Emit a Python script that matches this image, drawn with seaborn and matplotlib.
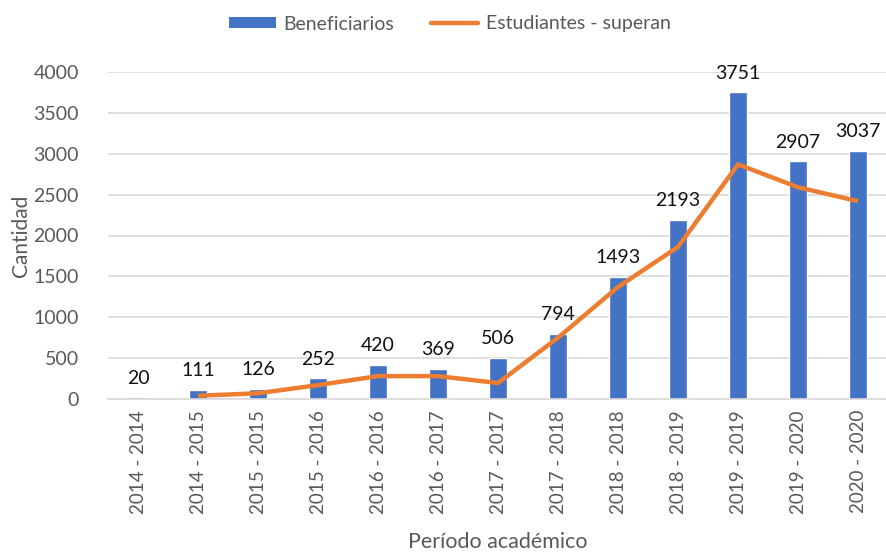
import matplotlib
matplotlib.use("Agg")
import matplotlib.pyplot as plt
import seaborn as sns
import pandas as pd
from matplotlib.patches import Patch
from matplotlib.lines import Line2D

periodos = ["2014 - 2014", "2014 - 2015", "2015 - 2015", "2015 - 2016", "2016 - 2016",
            "2016 - 2017", "2017 - 2017", "2017 - 2018", "2018 - 2018", "2018 - 2019",
            "2019 - 2019", "2019 - 2020", "2020 - 2020"]
beneficiarios = [20, 111, 126, 252, 420, 369, 506, 794, 1493, 2193, 3751, 2907, 3037]
superan = [None, 40, 70, 170, 280, 280, 195, 750, 1370, 1860, 2870, 2590, 2420]
yticks = [0, 500, 1000, 1500, 2000, 2500, 3000, 3500, 4000]

sns.set_theme(style="white")
plt.rcParams['font.family'] = ['Lato', 'DejaVu Sans']

df = pd.DataFrame({"Periodo": periodos, "Beneficiarios": beneficiarios,
                   "Superan": superan})
df["x"] = range(len(df))

fig = plt.figure(figsize=(8.86, 5.56), dpi=100)
ax = fig.add_axes([108/886, (556-399)/556, 780/886, (399-72)/556])

bar_color = "#4472C4"
line_color = "#ED7D31"

sns.barplot(data=df, x="Periodo", y="Beneficiarios", color=bar_color, width=0.3,
            saturation=1, ax=ax, zorder=2)
line_df = df.dropna(subset=["Superan"])
ax.plot(line_df["x"], line_df["Superan"], color=line_color, linewidth=3.2,
        solid_capstyle="butt", solid_joinstyle="round", zorder=3)

for i, v in enumerate(beneficiarios):
    ax.text(i, v + 130, str(v), ha="center", va="bottom", fontsize=14, color="#111111")

ax.set_ylim(0, 4000)
ax.set_xlim(-0.5, 12.5)
ax.set_yticks(yticks)
ax.set_yticklabels([str(t) for t in yticks], fontsize=14, color="#595959")
ax.tick_params(axis="y", length=0, pad=21)
ax.tick_params(axis="x", length=0, pad=8)
ax.set_xticks(range(len(periodos)))
ax.set_xticklabels(periodos, rotation=90, fontsize=13.5, color="#595959")
ax.yaxis.grid(True, color="#D9D9D9", linewidth=1.2, zorder=0)
ax.set_axisbelow(True)
for s in ["top", "right", "left"]:
    ax.spines[s].set_visible(False)
ax.spines["bottom"].set_color("#D9D9D9")
ax.spines["bottom"].set_linewidth(1.2)

ax.set_xlabel("Período académico", fontsize=15.5, color="#595959", labelpad=13)
ax.set_ylabel("Cantidad", fontsize=15, color="#595959", labelpad=2)

handles = [Patch(facecolor=bar_color, edgecolor="none"),
           Line2D([0], [0], color=line_color, linewidth=3.2)]
fig.legend(handles, ["Beneficiarios", "Estudiantes - superan"], loc="center",
           bbox_to_anchor=(450/886, 1 - 24/556), ncol=2, frameon=False,
           fontsize=14, handlelength=2.4, handleheight=0.55, columnspacing=1.9,
           handletextpad=0.4, labelcolor="#595959")

fig.savefig("out.png", dpi=100)
